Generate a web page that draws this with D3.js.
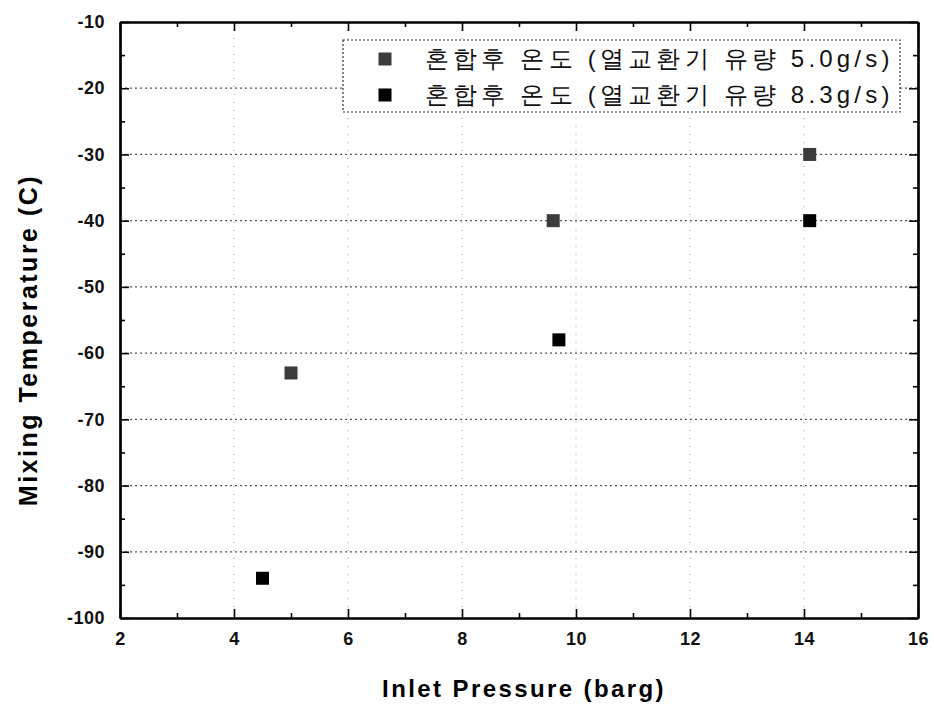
<!DOCTYPE html>
<html>
<head>
<meta charset="utf-8">
<script src="https://cdn.jsdelivr.net/npm/d3@7"></script>
<style>
	body { margin: 0; background: white; }
	text { font-family: "Liberation Sans", Arial, sans-serif; }
</style>
</head>
<body>
<svg></svg>
<script>
'use strict';

// series: heat-exchanger flow 5.0 g/s and 8.3 g/s
const seriesNames = [
	'혼합후 온도 (열교환기 유량 5.0g/s)',
	'혼합후 온도 (열교환기 유량 8.3g/s)'
];
const pressure50 = [5.0, 9.6, 14.1];
const temp50 = [-63, -40, -30];
const pressure83 = [4.5, 9.7, 14.1];
const temp83 = [-94, -58, -40];

const xTicks = [2, 4, 6, 8, 10, 12, 14, 16];
const yTicks = [-100, -90, -80, -70, -60, -50, -40, -30, -20, -10];

const opts = {
	width: 934,
	height: 711,
	left: 120,
	right: 918,
	top: 22,
	bottom: 618
};

const svg = d3.select('svg')
	.attr('width', opts.width)
	.attr('height', opts.height);

const x = d3.scaleLinear().domain([2, 16]).range([opts.left, opts.right]);
const y = d3.scaleLinear().domain([-100, -10]).range([opts.bottom, opts.top]);

// dotted grid
svg.append('g')
	.selectAll('line')
	.data(yTicks.slice(1, -1))
	.join('line')
	.attr('x1', opts.left).attr('x2', opts.right)
	.attr('y1', d => y(d)).attr('y2', d => y(d))
	.attr('stroke', '#555')
	.attr('stroke-width', 1.2)
	.attr('stroke-dasharray', '2,3');

svg.append('g')
	.selectAll('line')
	.data(xTicks.slice(1, -1))
	.join('line')
	.attr('x1', d => x(d)).attr('x2', d => x(d))
	.attr('y1', opts.top).attr('y2', opts.bottom)
	.attr('stroke', '#999')
	.attr('stroke-width', 1)
	.attr('stroke-dasharray', '1,7');

// axes, ticks pointing inward on all four sides
const fmt = d => String(d); // plain hyphen minus, as in the original
const minorX = d3.range(3, 16, 2);
const minorY = d3.range(-95, -10, 10);

const drawAxis = (axis, pos, labels) => {
	const g = svg.append('g').attr('transform', pos);
	g.call(axis);
	g.select('.domain').attr('stroke', 'black').attr('stroke-width', 2.2);
	g.selectAll('.tick line').attr('stroke', 'black').attr('stroke-width', 1.6);
	g.selectAll('text')
		.attr('font-size', 18)
		.attr('font-weight', 'bold')
		.attr('letter-spacing', 0.5)
		.attr('fill', labels ? '#111' : 'none');
	return g;
};

drawAxis(d3.axisBottom(x).tickValues(xTicks).tickFormat(fmt).tickSizeInner(-9).tickSizeOuter(0).tickPadding(14),
	`translate(0,${opts.bottom})`, true);
drawAxis(d3.axisBottom(x).tickValues(minorX).tickFormat('').tickSizeInner(-5).tickSizeOuter(0),
	`translate(0,${opts.bottom})`, false);
drawAxis(d3.axisTop(x).tickValues(xTicks).tickFormat('').tickSizeInner(-9).tickSizeOuter(0),
	`translate(0,${opts.top})`, false);
drawAxis(d3.axisTop(x).tickValues(minorX).tickFormat('').tickSizeInner(-5).tickSizeOuter(0),
	`translate(0,${opts.top})`, false);
drawAxis(d3.axisLeft(y).tickValues(yTicks).tickFormat(fmt).tickSizeInner(-9).tickSizeOuter(0).tickPadding(15),
	`translate(${opts.left},0)`, true);
drawAxis(d3.axisLeft(y).tickValues(minorY).tickFormat('').tickSizeInner(-5).tickSizeOuter(0),
	`translate(${opts.left},0)`, false);
drawAxis(d3.axisRight(y).tickValues(yTicks).tickFormat('').tickSizeInner(-9).tickSizeOuter(0),
	`translate(${opts.right},0)`, false);
drawAxis(d3.axisRight(y).tickValues(minorY).tickFormat('').tickSizeInner(-5).tickSizeOuter(0),
	`translate(${opts.right},0)`, false);

// axis titles
svg.append('text')
	.text('Inlet Pressure (barg)')
	.attr('x', 524)
	.attr('y', 697)
	.attr('text-anchor', 'middle')
	.attr('font-size', 24)
	.attr('letter-spacing', 2.4)
	.attr('font-weight', 'bold');

svg.append('text')
	.text('Mixing Temperature (C)')
	.attr('transform', `translate(37,340) rotate(-90)`)
	.attr('text-anchor', 'middle')
	.attr('font-size', 25)
	.attr('letter-spacing', 2.5)
	.attr('font-weight', 'bold');

// markers
const colors = ['#3c3c3c', '#000'];
const size = 13;
const series = [
	{ xs: pressure50, ys: temp50 },
	{ xs: pressure83, ys: temp83 }
];

series.forEach((s, i) => {
	svg.append('g')
		.selectAll('rect')
		.data(s.xs.map((v, j) => [v, s.ys[j]]))
		.join('rect')
		.attr('x', d => x(d[0]) - size / 2)
		.attr('y', d => y(d[1]) - size / 2)
		.attr('width', size)
		.attr('height', size)
		.attr('fill', colors[i]);
});

// legend
const lg = svg.append('g');
lg.append('rect')
	.attr('x', 343).attr('y', 40)
	.attr('width', 557).attr('height', 72)
	.attr('fill', 'white')
	.attr('stroke', '#333')
	.attr('stroke-width', 1.2)
	.attr('stroke-dasharray', '2,2');

seriesNames.forEach((name, i) => {
	const cy = 59 + i * 36;
	lg.append('rect')
		.attr('x', 385 - size / 2).attr('y', cy - size / 2)
		.attr('width', size).attr('height', size)
		.attr('fill', colors[i]);
	lg.append('text')
		.text(name)
		.attr('x', 425).attr('y', cy + 8)
		.attr('font-size', 24)
		.attr('letter-spacing', 4.2)
		.attr('font-weight', 500)
		.attr('font-family', '"Noto Sans CJK KR", sans-serif')
		.attr('fill', '#111');
});
</script>
</body>
</html>
